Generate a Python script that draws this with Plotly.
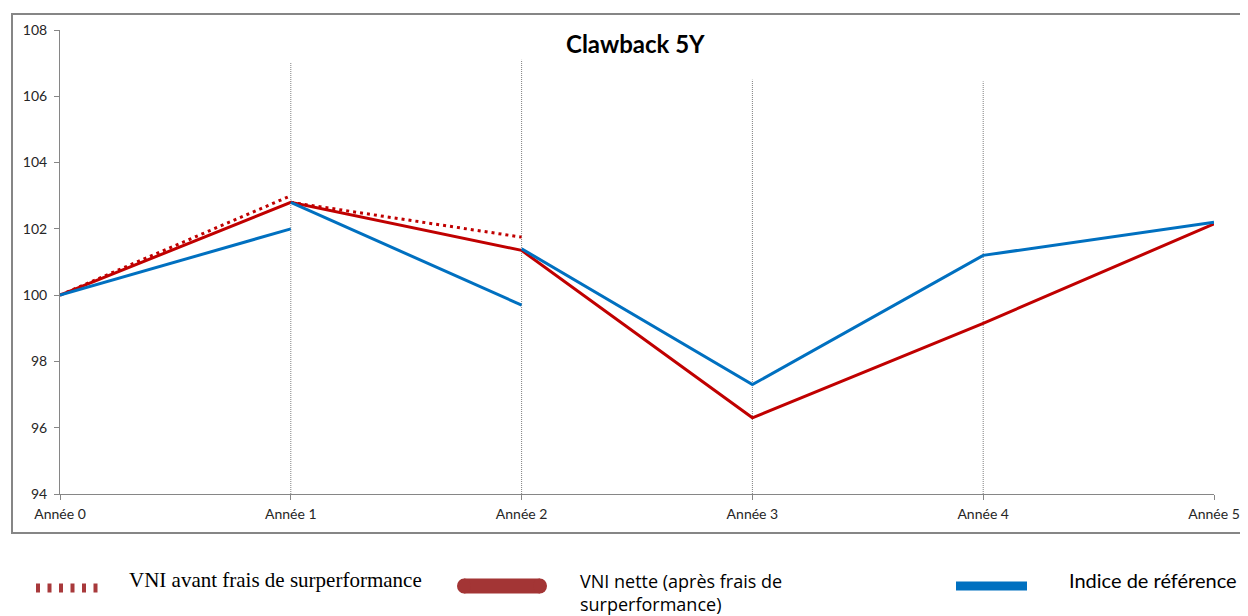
import plotly.graph_objects as go

# ---------------- data ----------------
years = ["Année 0", "Année 1", "Année 2", "Année 3", "Année 4", "Année 5"]

# VNI avant frais de surperformance (segments restart each year)
vni_avant_seg1 = [100.0, 103.0]      # Année 0 -> Année 1
vni_avant_seg2 = [102.8, 101.75]     # Année 1 -> Année 2

# VNI nette (après frais de surperformance)
vni_nette = [100.0, 102.8, 101.35, 96.3, 99.15, 102.15]

# Indice de référence (segments restart at reset dates)
indice_seg1 = [100.0, 102.0]               # Année 0 -> Année 1
indice_seg2 = [102.8, 99.7]                # Année 1 -> Année 2
indice_seg3 = [101.4, 97.3, 101.2, 102.2]  # Année 2 -> Année 5

# vertical reset markers (year index, top value)
reset_years = [1, 2, 3, 4]
reset_tops = [107.03, 107.1, 106.5, 106.45]

y_ticks = [94, 96, 98, 100, 102, 104, 106, 108]

# ---------------- styles ----------------
RED = "#c00000"
BLUE = "#0070c0"
GRAY = "#868686"
SANS = "Lato"
SERIF = "Liberation Serif"

xi = list(range(len(years)))

fig = go.Figure()

# vertical dotted markers
vx, vy = [], []
for yr, top in zip(reset_years, reset_tops):
    vx += [yr, yr, None]
    vy += [y_ticks[0], top, None]
fig.add_trace(go.Scatter(x=vx, y=vy, mode="lines",
                         line=dict(color="#7f7f7f", width=1, dash="1px,1px"),
                         showlegend=False, hoverinfo="skip"))

# VNI avant (dotted)
fig.add_trace(go.Scatter(x=xi[0:2], y=vni_avant_seg1, mode="lines",
                         line=dict(color=RED, width=3, dash="3px,4px"),
                         showlegend=False))
fig.add_trace(go.Scatter(x=xi[1:3], y=vni_avant_seg2, mode="lines",
                         line=dict(color=RED, width=3, dash="3px,4px"),
                         showlegend=False))

# VNI nette
fig.add_trace(go.Scatter(x=xi, y=vni_nette, mode="lines",
                         line=dict(color=RED, width=3), showlegend=False))

# Indice
fig.add_trace(go.Scatter(x=xi[0:2], y=indice_seg1, mode="lines",
                         line=dict(color=BLUE, width=3), showlegend=False))
fig.add_trace(go.Scatter(x=xi[1:3], y=indice_seg2, mode="lines",
                         line=dict(color=BLUE, width=3), showlegend=False))
fig.add_trace(go.Scatter(x=xi[2:6], y=indice_seg3, mode="lines",
                         line=dict(color=BLUE, width=3), showlegend=False))

# ---------------- layout ----------------
O = 8  # page body margin
W, H = 1240, 608
# plot area in page pixels: x 60..1214, y 30..494
L, T = 60 - O, 30 - O
R = W - (1214 - O)
B = H - (494 - O)
PW, PH = W - L - R, H - T - B


def px(x):
    return (x - O - L) / PW


def py(y):
    return (H - B - (y - O)) / PH


fig.update_layout(
    width=W, height=H,
    margin=dict(l=L, r=R, t=T, b=B),
    paper_bgcolor="white", plot_bgcolor="white",
    showlegend=False,
    xaxis=dict(range=[0, len(years) - 1], tickvals=xi, ticktext=years,
               automargin=False,
               showgrid=False, zeroline=False, showline=True,
               linecolor=GRAY, linewidth=1, ticks="outside", ticklen=5,
               tickcolor=GRAY, ticklabelstandoff=2,
               tickfont=dict(family=SANS, size=14, color="#262626")),
    yaxis=dict(range=[y_ticks[0], y_ticks[-1]], tickvals=y_ticks,
               automargin=False,
               showgrid=False, zeroline=False, showline=True,
               linecolor=GRAY, linewidth=1, ticks="outside", ticklen=5,
               tickcolor=GRAY, ticklabelstandoff=4,
               tickfont=dict(family=SANS, size=14, color="#262626")),
)

shapes = [
    # outer frame
    dict(type="rect", xref="paper", yref="paper",
         x0=px(12), x1=px(1262), y0=py(533), y1=py(14),
         line=dict(color=GRAY, width=2), layer="below"),
    # legend symbols
    dict(type="line", xref="paper", yref="paper",
         x0=px(36), x1=px(99), y0=py(588), y1=py(588),
         line=dict(color="#a8393b", width=9, dash="4px,7.5px")),
    dict(type="line", xref="paper", yref="paper",
         x0=px(464), x1=px(540), y0=py(586), y1=py(586),
         line=dict(color="#a33535", width=15)),
    dict(type="circle", xref="paper", yref="paper",
         x0=px(457), x1=px(471), y0=py(593.5), y1=py(578.5),
         fillcolor="#a33535", line=dict(width=0)),
    dict(type="circle", xref="paper", yref="paper",
         x0=px(533), x1=px(547), y0=py(593.5), y1=py(578.5),
         fillcolor="#a33535", line=dict(width=0)),
    dict(type="line", xref="paper", yref="paper",
         x0=px(956), x1=px(1027), y0=py(586), y1=py(586),
         line=dict(color=BLUE, width=9)),
]
fig.update_layout(shapes=shapes)

annotations = [
    dict(text="Clawback 5Y", xref="paper", yref="paper", x=px(635), y=py(44),
         xanchor="center", yanchor="middle", showarrow=False,
         font=dict(family=SANS, size=24, color="black", weight="bold")),
    dict(text="VNI avant frais de surperformance", xref="paper", yref="paper",
         x=px(127), y=py(580), xanchor="left", yanchor="middle", showarrow=False,
         font=dict(family=SERIF, size=21, color="black")),
    dict(text="VNI nette (après frais de<br>surperformance)", xref="paper", yref="paper",
         x=px(578), y=py(592), xanchor="left", yanchor="middle", showarrow=False,
         align="left", font=dict(family="Open Sans", size=18, color="black")),
    dict(text="Indice de référence", xref="paper", yref="paper",
         x=px(1067), y=py(580), xanchor="left", yanchor="middle", showarrow=False,
         font=dict(family=SANS, size=20, color="black")),
]
fig.update_layout(annotations=annotations)

fig.write_html("out.html")
